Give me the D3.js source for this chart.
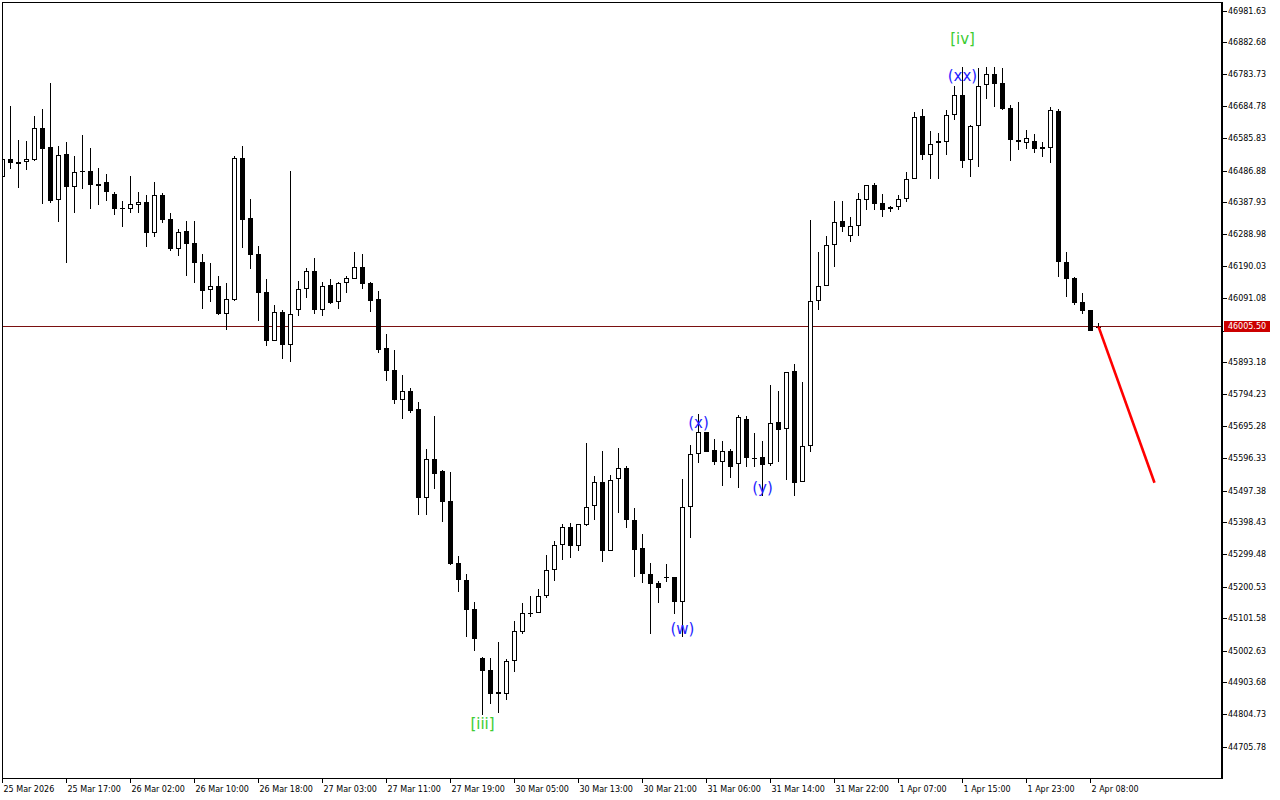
<!DOCTYPE html>
<html><head><meta charset="utf-8">
<script src="https://cdn.jsdelivr.net/npm/d3@7"></script>
<style>html,body{margin:0;padding:0;background:#fff;overflow:hidden}svg{display:block}</style>
</head><body>
<svg id="chart" width="1280" height="800"></svg>
<script>
// ---- DATA (H1 candles) ----
const open = [46469.3,46523.1,46514.7,46515.6,46520.9,46618.9,46560.2,46398.1,46538.5,46438.3,
46486.0,46486.0,46446.7,46451.9,46414.8,46372.5,46370.3,46382.7,46390.1,46296.1,
46411.7,46337.5,46245.7,46301.3,46263.3,46204.6,46118.0,46131.3,46045.6,46088.0,
46526.1,46340.6,46229.3,46111.8,45960.3,46050.0,45947.9,46056.1,46121.1,46176.7,
46056.1,46134.4,46080.9,46139.6,46153.8,46189.1,46139.6,46090.1,45938.6,45870.6,
45779.7,45805.7,45750.0,45474.8,45595.4,45559.2,45465.5,45273.8,45221.2,45131.6,
44980.0,44942.9,44875.8,44870.6,44970.8,45062.3,45119.2,45119.2,45171.8,45252.2,
45329.5,45385.1,45328.2,45393.2,45450.1,45525.2,45312.8,45533.6,45567.6,45406.8,
45321.1,45239.8,45212.9,45231.4,45231.4,45155.1,45447.0,45610.9,45678.9,45623.2,
45586.1,45620.1,45579.9,45719.1,45600.3,45602.5,45581.8,45710.7,45688.2,45868.4,
45524.3,45635.6,46084.0,46132.2,46257.1,46331.3,46285.0,46315.9,46396.3,46442.7,
46387.0,46368.4,46375.6,46399.4,46463.1,46656.9,46535.4,46572.5,46577.5,46659.1,
46722.8,46521.8,46625.1,46751.9,46785.9,46758.1,46680.8,46582.7,46572.5,46579.6,
46554.0,46558.9,46672.4,46206.4,46156.0,46081.8,46057.1,46005.5];
const high = [46530.2,46687.9,46582.7,46579.6,46656.9,46678.6,46759.0,46564.2,46576.5,46533.3,
46598.2,46558.0,46496.2,46477.6,46421.0,46394.1,46471.4,46421.9,46411.7,46451.9,
46417.9,46356.1,46307.5,46332.3,46332.3,46229.3,46201.5,46162.2,46139.6,46534.2,
46564.2,46400.3,46255.0,46152.0,46072.5,46057.1,46486.9,46146.7,46186.9,46217.9,
46142.7,46152.9,46143.6,46163.1,46236.4,46230.2,46143.6,46115.8,45982.9,45933.4,
45856.1,45815.9,45771.7,45627.2,45729.3,45562.3,45556.1,45296.4,45240.7,45154.1,
44983.1,44980.0,45030.4,44977.9,45095.4,45151.0,45172.7,45194.3,45299.5,45342.8,
45395.3,45398.4,45394.4,45645.8,45543.8,45621.1,45546.8,45630.3,45574.7,45444.8,
45364.4,45274.7,45219.1,45270.7,45231.4,45534.5,45639.6,45735.5,45679.8,45657.2,
45652.0,45627.2,45731.5,45729.3,45676.7,45652.0,45825.1,45806.6,45864.4,45890.1,
45834.4,46335.4,46236.4,46285.9,46394.1,46394.1,46343.7,46417.9,46442.7,46448.8,
46414.8,46379.6,46412.7,46483.8,46669.3,46678.6,46610.6,46604.4,46675.5,46749.7,
46809.4,46629.1,46805.4,46809.4,46809.4,46805.4,46691.0,46700.2,46612.7,46601.3,
46575.6,46684.8,46678.6,46236.4,46160.0,46109.6,46057.1,46015.9];
const low = [46465.2,46494.0,46435.2,46490.0,46518.7,46384.8,46388.9,46329.2,46203.3,46357.9,
46432.1,46370.3,46381.7,46395.0,46350.8,46314.6,46357.9,46357.9,46252.8,46283.7,
46327.0,46240.4,46224.0,46162.2,46141.5,46060.2,46081.8,46041.6,45995.2,46085.8,
46249.7,46184.8,46023.0,45946.7,45960.3,45906.5,45897.2,46039.4,46095.1,46045.6,
46039.4,46074.7,46061.1,46110.6,46153.8,46122.9,46051.8,45925.0,45838.4,45767.3,
45720.9,45738.6,45423.2,45423.2,45504.5,45402.4,45268.5,45186.0,45046.8,45003.5,
44804.7,44839.7,44810.9,44851.1,44937.7,45056.1,45108.7,45119.2,45165.6,45220.0,
45283.1,45289.3,45312.8,45390.1,45406.8,45278.8,45310.9,45430.3,45383.9,45232.4,
45213.8,45056.1,45152.0,45216.9,45116.1,45045.0,45353.0,45583.0,45618.0,45577.8,
45513.8,45538.5,45505.7,45572.5,45572.5,45482.8,45574.7,45587.0,45531.4,45482.8,
45524.3,45618.9,46056.1,46132.2,46191.0,46299.2,46267.3,46286.8,46366.3,46366.3,
46345.6,46361.0,46365.4,46391.9,46461.2,46520.9,46463.1,46463.1,46537.3,46644.6,
46497.1,46469.3,46500.2,46710.4,46685.7,46676.4,46518.7,46550.9,46555.8,46541.6,
46531.1,46512.5,46160.0,46098.2,46071.6,46044.7,45993.0,46003.6];
const close = [46523.1,46512.5,46509.5,46524.0,46618.9,46555.8,46394.1,46535.4,46438.3,46482.9,
46486.9,46444.5,46441.4,46422.9,46370.3,46372.0,46383.9,46390.1,46296.1,46411.7,
46335.4,46245.7,46297.3,46262.1,46203.3,46116.7,46130.3,46044.7,46090.1,46526.1,
46336.3,46228.1,46109.6,45962.1,46050.0,45949.8,46043.8,46121.1,46176.7,46058.0,
46131.3,46078.7,46139.6,46155.1,46189.1,46138.4,46085.8,45934.3,45869.4,45779.7,
45805.7,45744.8,45476.7,45595.4,45550.9,45464.3,45272.6,45223.1,45130.3,45040.6,
44941.7,44870.6,44871.2,44970.8,45063.5,45119.2,45120.1,45172.7,45252.2,45329.5,
45385.1,45328.2,45394.4,45447.0,45524.3,45312.8,45530.5,45567.6,45406.8,45315.9,
45239.8,45210.7,45196.5,45231.0,45155.1,45447.0,45610.9,45678.9,45618.9,45588.0,
45620.1,45572.5,45727.1,45600.3,45600.0,45577.8,45706.7,45686.9,45864.4,45523.0,
45635.6,46084.0,46132.2,46257.1,46330.1,46312.8,46315.9,46399.4,46442.7,46385.8,
46367.2,46375.6,46399.4,46461.2,46652.9,46537.3,46569.4,46579.6,46659.1,46721.9,
46518.7,46625.1,46748.8,46785.9,46755.0,46678.6,46581.8,46575.6,46588.0,46554.0,
46560.2,46674.6,46206.4,46153.8,46078.7,46054.9,45993.0,46005.5];

const timeTickIndex = [0,8,16,24,32,40,48,56,64,72,80,88,96,104,112,120,128,136];
const timeTickLabels = ["25 Mar 2026","25 Mar 17:00","26 Mar 02:00","26 Mar 10:00","26 Mar 18:00",
"27 Mar 03:00","27 Mar 11:00","27 Mar 19:00","30 Mar 05:00","30 Mar 13:00","30 Mar 21:00",
"31 Mar 06:00","31 Mar 14:00","31 Mar 22:00","1 Apr 07:00","1 Apr 15:00","1 Apr 23:00","2 Apr 08:00"];
const priceTicks = [46981.63,46882.68,46783.73,46684.78,46585.83,46486.88,46387.93,46288.98,
46190.03,46091.08,45992.13,45893.18,45794.23,45695.28,45596.33,45497.38,45398.43,45299.48,
45200.53,45101.58,45002.63,44903.68,44804.73,44705.78];
const lastPrice = 46005.50;

const waveText  = ["[iii]","[iv]","(w)","(x)","(y)","(xx)"];
const waveIndex = [60,120,85,87,95,120];
const wavePrice = [44776.9,46895.7,45070.6,45706.7,45506.7,46779.7];

const forecastIndex = [137,144];
const forecastPrice = [46005.5,45523.0];

// ---- LAYOUT ----
const W = 1280, H = 800;
const plotL = 2, plotR = 1222, plotT = 2, plotB = 778;
const svg = d3.select("#chart");
svg.append("rect").attr("width",W).attr("height",H).attr("fill","#fff");

const x = d3.scaleLinear().domain([0,137]).range([2.5, 1098.5]);
const y = d3.scaleLinear().domain([44705.78, 46981.63]).range([747, 11]);

svg.append("clipPath").attr("id","clip").append("rect")
  .attr("x",plotL).attr("y",plotT).attr("width",plotR-plotL).attr("height",plotB-plotT);

const g = svg.append("g").attr("clip-path","url(#clip)");

// last price line
const yl = Math.round(y(lastPrice)-0.5)+0.5;
g.append("line").attr("x1",plotL).attr("x2",plotR).attr("y1",yl).attr("y2",yl)
  .attr("stroke","#7a1010").attr("stroke-width",1);

// candles
const candles = g.append("g");
d3.range(open.length).forEach(i=>{
  const cx = Math.round(x(i)-0.5)+0.5;
  const yh = Math.round(y(high[i])), ylo = Math.round(y(low[i]));
  const yo = y(open[i]), yc = y(close[i]);
  const top = Math.round(Math.min(yo,yc)), bot = Math.round(Math.max(yo,yc));
  candles.append("line").attr("x1",cx).attr("x2",cx).attr("y1",yh).attr("y2",Math.max(ylo,yh+1))
    .attr("stroke","#000").attr("stroke-width",1);
  if (bot - top < 2) {
    candles.append("rect").attr("x",cx-2.5).attr("y",top).attr("width",5).attr("height",Math.max(1,bot-top))
      .attr("fill","#000");
  } else if (close[i] >= open[i]) {
    candles.append("rect").attr("x",cx-2).attr("y",top+0.5).attr("width",4).attr("height",bot-top-1)
      .attr("fill","#fff").attr("stroke","#000").attr("stroke-width",1);
  } else {
    candles.append("rect").attr("x",cx-2.5).attr("y",top).attr("width",5).attr("height",bot-top)
      .attr("fill","#000");
  }
});

// forecast line
g.append("line")
  .attr("x1",x(forecastIndex[0])).attr("y1",y(forecastPrice[0]))
  .attr("x2",x(forecastIndex[1])).attr("y2",y(forecastPrice[1]))
  .attr("stroke","#ff0000").attr("stroke-width",2.6);

// wave labels
waveText.forEach((t,k)=>{
  g.append("text").attr("x",x(waveIndex[k])).attr("y",y(wavePrice[k]))
    .attr("text-anchor","middle").attr("dominant-baseline","central")
    .attr("font-family","DejaVu Sans").attr("font-size",15)
    .attr("fill", t.startsWith("[") ? "#3ccc32" : "#1e1eff")
    .text(t);
});

// frame
svg.append("line").attr("x1",plotL+0.5).attr("x2",plotL+0.5).attr("y1",plotT).attr("y2",plotB).attr("stroke","#000");
svg.append("line").attr("x1",plotL).attr("x2",plotR).attr("y1",plotT+0.5).attr("y2",plotT+0.5).attr("stroke","#000");
svg.append("line").attr("x1",plotR).attr("x2",plotR).attr("y1",plotT).attr("y2",plotB+1).attr("stroke","#000").attr("stroke-width",2);
svg.append("line").attr("x1",plotL).attr("x2",plotR).attr("y1",plotB+0.5).attr("y2",plotB+0.5).attr("stroke","#000");

// price axis (the tick just under the last-price badge is hidden by it, as in the reference)
const pa = svg.append("g");
priceTicks.forEach(p=>{
  const yy = Math.round(y(p)-0.5)+0.5;
  pa.append("line").attr("x1",plotR+1).attr("x2",plotR+5).attr("y1",yy).attr("y2",yy).attr("stroke","#000");
  if (Math.abs(y(p)-y(lastPrice)) > 8) {
    pa.append("text").attr("x",plotR+6).attr("y",yy).attr("dominant-baseline","central")
      .attr("font-family","DejaVu Sans").attr("font-size",8).attr("fill","#000").text(d3.format(".2f")(p));
  }
});
// last price badge
pa.append("rect").attr("x",plotR+2).attr("y",yl-5.5).attr("width",46).attr("height",11).attr("fill","#cc0000");
pa.append("text").attr("x",plotR+25).attr("y",yl).attr("text-anchor","middle").attr("dominant-baseline","central")
  .attr("font-family","DejaVu Sans").attr("font-size",8).attr("fill","#fff").text(d3.format(".2f")(lastPrice));

// time axis
const ta = svg.append("g");
timeTickIndex.forEach((ti,k)=>{
  const xx = Math.round(x(ti)-0.5)+0.5;
  ta.append("line").attr("x1",xx).attr("x2",xx).attr("y1",plotB).attr("y2",plotB+5).attr("stroke","#000");
  ta.append("text").attr("x",xx+1).attr("y",plotB+14).attr("font-family","DejaVu Sans").attr("font-size",8)
    .attr("fill","#000").text(timeTickLabels[k]);
});
</script>
</body></html>
